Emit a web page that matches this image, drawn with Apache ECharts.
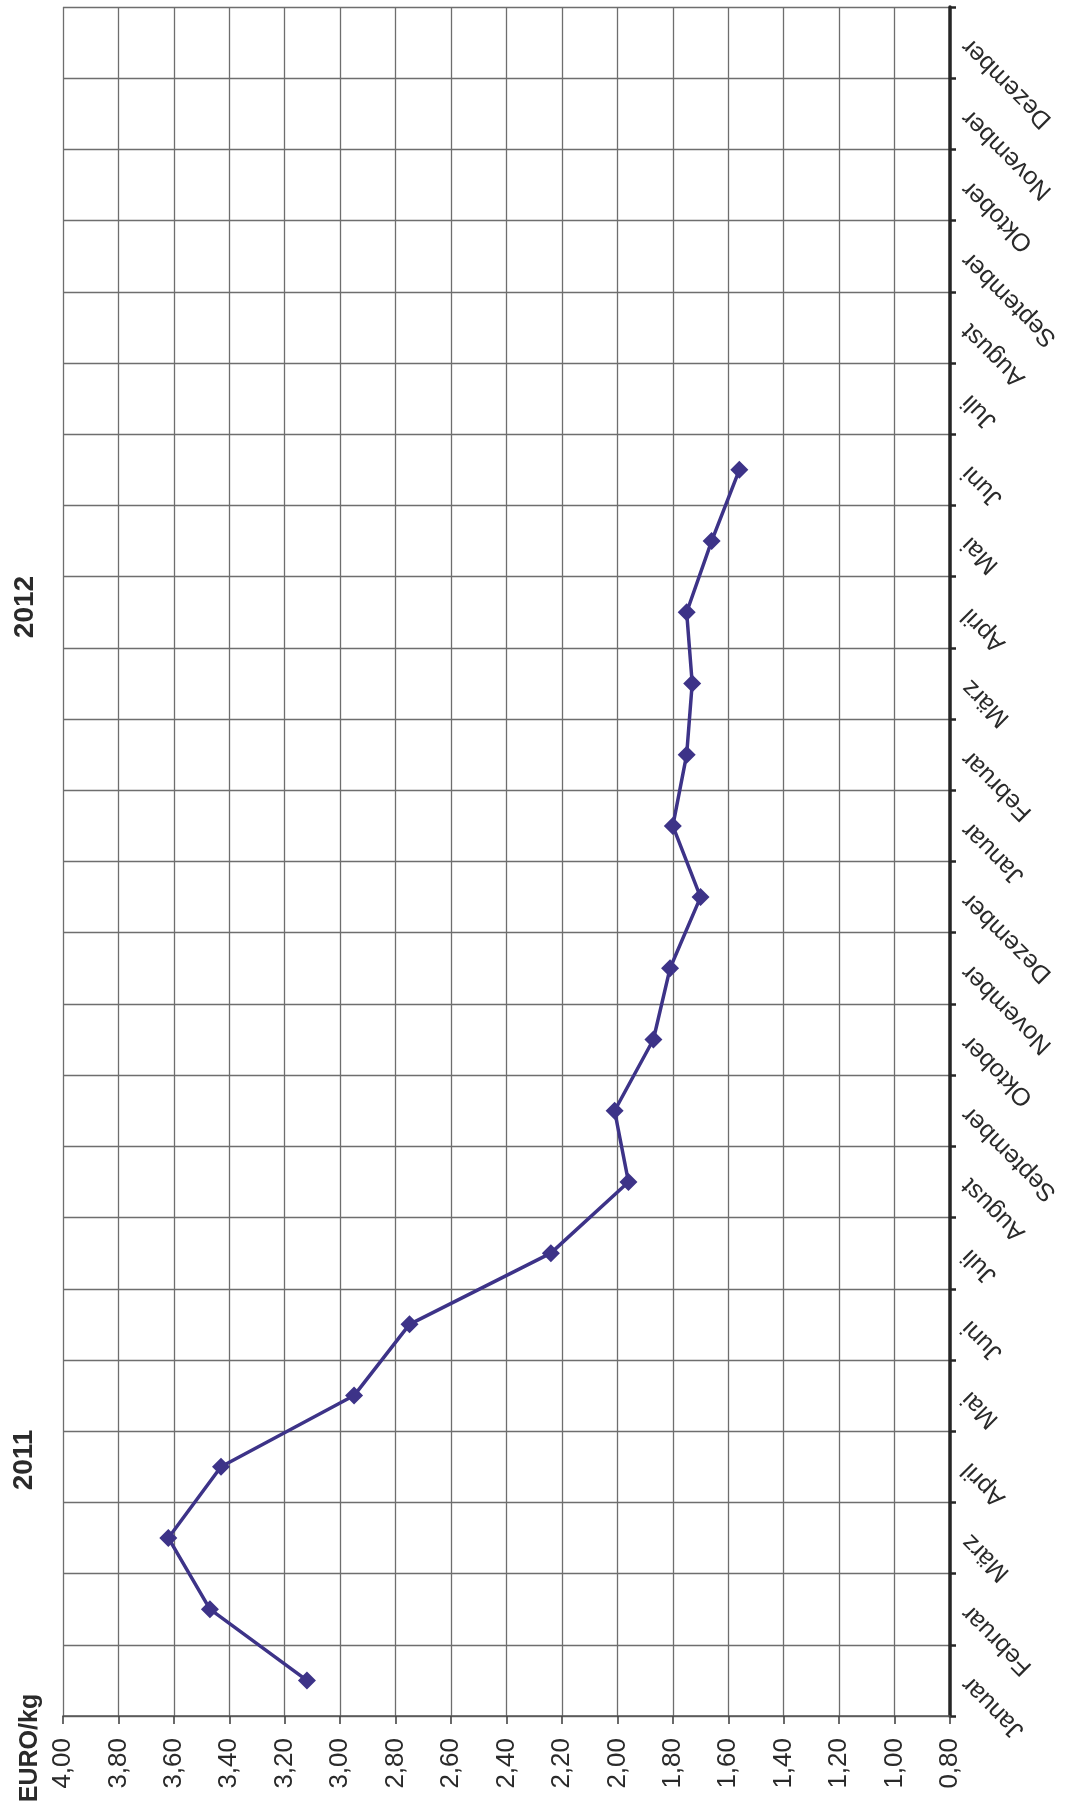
<!DOCTYPE html>
<html>
<head>
<meta charset="utf-8">
<script src="https://cdn.jsdelivr.net/npm/echarts@6/dist/echarts.min.js"></script>
<style>
html,body{margin:0;padding:0;background:#fff;}
#chart{width:1069px;height:1812px;}
</style>
</head>
<body>
<div id="chart"></div>
<script>
const months = ['Januar','Februar','März','April','Mai','Juni','Juli','August','September','Oktober','November','Dezember',
                'Januar','Februar','März','April','Mai','Juni','Juli','August','September','Oktober','November','Dezember'];
const prices2011 = [3.12, 3.47, 3.62, 3.43, 2.95, 2.75, 2.24, 1.96, 2.01, 1.87, 1.81, 1.70];
const prices2012 = [1.80, 1.75, 1.73, 1.75, 1.66, 1.56, null, null, null, null, null, null];
const yearLabels = ['2011', '2012'];
const unitLabel = 'EURO/kg';

const seriesData = prices2011.concat(prices2012);
const FONT = '"Liberation Sans", Arial, sans-serif';

const chart = echarts.init(document.getElementById('chart'), null, {renderer: 'canvas'});
chart.setOption({
  backgroundColor: '#ffffff',
  animation: false,
  grid: {left: 63, right: 119, top: 7, bottom: 96},
  xAxis: {
    type: 'value',
    position: 'bottom',
    inverse: true,
    min: 0.8,
    max: 4.0,
    interval: 0.2,
    axisLine: {show: true, onZero: false, lineStyle: {color: '#555', width: 1.6}},
    axisTick: {show: true, length: 8, lineStyle: {color: '#444', width: 1.6}},
    splitLine: {show: true, lineStyle: {color: '#6e6e6e', width: 1.3}},
    axisLabel: {
      rotate: 90,
      margin: 22,
      fontSize: 26,
      color: '#2a2a2a',
      fontFamily: FONT,
      formatter: function (v) { return v.toFixed(2).replace('.', ','); }
    }
  },
  yAxis: {
    type: 'category',
    position: 'right',
    data: months,
    boundaryGap: true,
    axisLine: {show: true, onZero: false, lineStyle: {color: '#262626', width: 3.5}},
    axisTick: {show: true, length: 6, inside: false, lineStyle: {color: '#262626', width: 2.5}},
    splitLine: {show: true, lineStyle: {color: '#6e6e6e', width: 1.3}},
    axisLabel: {
      rotate: 135,
      align: 'right',
      verticalAlign: 'middle',
      margin: 16,
      fontSize: 25,
      color: '#2a2a2a',
      fontFamily: FONT,
      interval: 0
    }
  },
  series: [{
    type: 'line',
    data: seriesData,
    symbol: 'diamond',
    symbolSize: [18, 18],
    showAllSymbol: true,
    connectNulls: false,
    lineStyle: {color: '#3d3388', width: 3.5},
    itemStyle: {color: '#3d3388'}
  }],
  graphic: [
    {type: 'text', x: 24, y: 1460, rotation: Math.PI / 2,
     style: {text: yearLabels[0], font: 'bold 28px ' + FONT, fill: '#2a2a2a', align: 'center', verticalAlign: 'middle'}},
    {type: 'text', x: 25, y: 607, rotation: Math.PI / 2,
     style: {text: yearLabels[1], font: 'bold 28px ' + FONT, fill: '#2a2a2a', align: 'center', verticalAlign: 'middle'}},
    {type: 'text', x: 30, y: 1748, rotation: Math.PI / 2,
     style: {text: unitLabel, font: 'bold 25px ' + FONT, fill: '#2a2a2a', align: 'center', verticalAlign: 'middle'}}
  ]
});
</script>
</body>
</html>
